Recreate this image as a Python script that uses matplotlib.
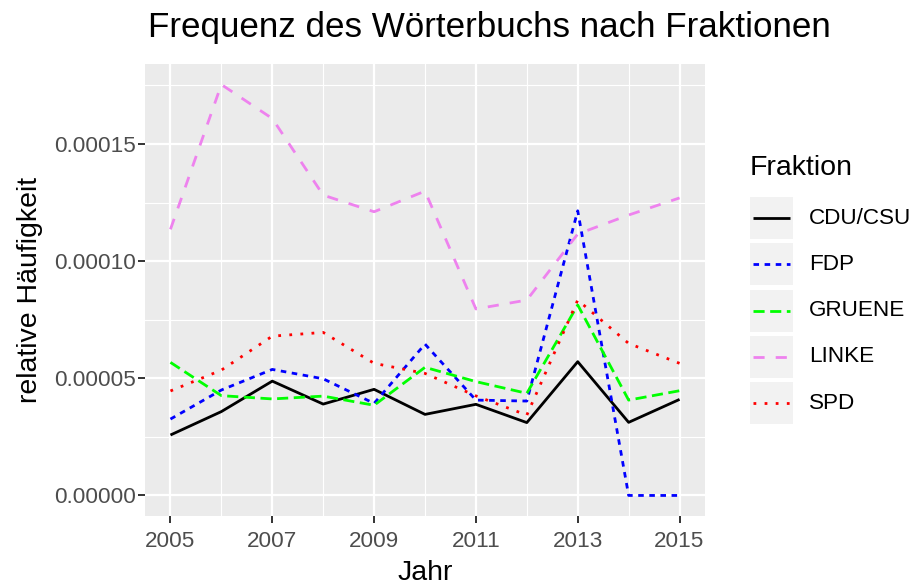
import matplotlib
matplotlib.use('Agg')
import matplotlib.pyplot as plt
from matplotlib.patches import Rectangle
from matplotlib.ticker import MultipleLocator, FuncFormatter

plt.rcParams['font.family'] = ['Liberation Sans', 'DejaVu Sans']

# data
jahre = list(range(2005, 2016))
cdu_csu = [2.58e-5, 3.58e-5, 4.88e-5, 3.90e-5, 4.53e-5, 3.46e-5, 3.89e-5, 3.11e-5, 5.71e-5, 3.12e-5, 4.10e-5]
fdp = [3.26e-5, 4.50e-5, 5.38e-5, 4.98e-5, 3.93e-5, 6.46e-5, 4.07e-5, 4.03e-5, 1.215e-4, 0.0, 0.0]
gruene = [5.68e-5, 4.26e-5, 4.12e-5, 4.24e-5, 3.85e-5, 5.47e-5, 4.86e-5, 4.36e-5, 8.13e-5, 4.07e-5, 4.47e-5]
linke = [1.136e-4, 1.754e-4, 1.609e-4, 1.282e-4, 1.211e-4, 1.299e-4, 7.96e-5, 8.34e-5, 1.116e-4, 1.197e-4, 1.27e-4]
spd = [4.46e-5, 5.35e-5, 6.80e-5, 6.96e-5, 5.64e-5, 5.21e-5, 4.25e-5, 3.43e-5, 8.34e-5, 6.49e-5, 5.64e-5]

fraktionen = ['CDU/CSU', 'FDP', 'GRUENE', 'LINKE', 'SPD']
werte = [cdu_csu, fdp, gruene, linke, spd]
farben = ['black', 'blue', '#00FF00', 'violet', 'red']
dashes = [None, (2, 2), (4, 2), (4, 4), (1, 3)]

W, H = 917, 585
fig = plt.figure(figsize=(W / 100, H / 100), dpi=100)

# panel in pixel coords: left 145, right 705, top 64, bottom 516
ax = fig.add_axes([145 / W, 1 - 516 / H, 560 / W, 452 / H])
ax.set_facecolor('#EBEBEB')
for s in ax.spines.values():
    s.set_visible(False)

for name, y, c, d in zip(fraktionen, werte, farben, dashes):
    line, = ax.plot(jahre, y, color=c, lw=2.0, label=name, solid_capstyle='butt')
    if d is not None:
        line.set_dashes(d)

ymax = max(max(v) for v in werte)
ax.set_xlim(2004.5, 2015.5)
ax.set_ylim(-0.05 * ymax, 1.05 * ymax)

ax.set_xticks(range(2005, 2016, 2))
ax.set_xticks(range(2006, 2016, 2), minor=True)
ax.yaxis.set_major_locator(MultipleLocator(5e-5))
ax.yaxis.set_minor_locator(MultipleLocator(2.5e-5))
ax.yaxis.set_major_formatter(FuncFormatter(lambda v, p: f'{v:.5f}'))

ax.grid(which='major', color='white', lw=1.6)
ax.grid(which='minor', color='white', lw=0.8)
ax.set_axisbelow(True)
ax.tick_params(which='major', length=5, width=1.4, color='#333333',
               labelcolor='#4D4D4D', labelsize=16.2, pad=1.5)
ax.tick_params(axis='x', which='major', pad=5.5)
ax.tick_params(which='minor', length=0)

ax.set_xlabel('Jahr', fontsize=20.5, labelpad=6)
ax.set_ylabel('relative Häufigkeit', fontsize=20.5, labelpad=8)
ax.set_title('Frequenz des Wörterbuchs nach Fraktionen', fontsize=25.2,
             loc='left', pad=19.5, x=3 / 560)

# legend drawn in a pixel-based overlay axes
lax = fig.add_axes([0, 0, 1, 1])
lax.set_xlim(0, W)
lax.set_ylim(H, 0)
lax.axis('off')
lax.text(750, 168, 'Fraktion', fontsize=20.5, va='center', ha='left')
for i, (name, c, d) in enumerate(zip(fraktionen, farben, dashes)):
    yc = 218 + i * 46.3
    lax.add_patch(Rectangle((750, yc - 21), 43, 42, facecolor='#F2F2F2', edgecolor='none'))
    line, = lax.plot([753, 790], [yc, yc], color=c, lw=2.0, solid_capstyle='butt')
    if d is not None:
        line.set_dashes(d)
    lax.text(809, yc, name, fontsize=16.2, va='center', ha='left')

fig.savefig('out.png', dpi=100)
